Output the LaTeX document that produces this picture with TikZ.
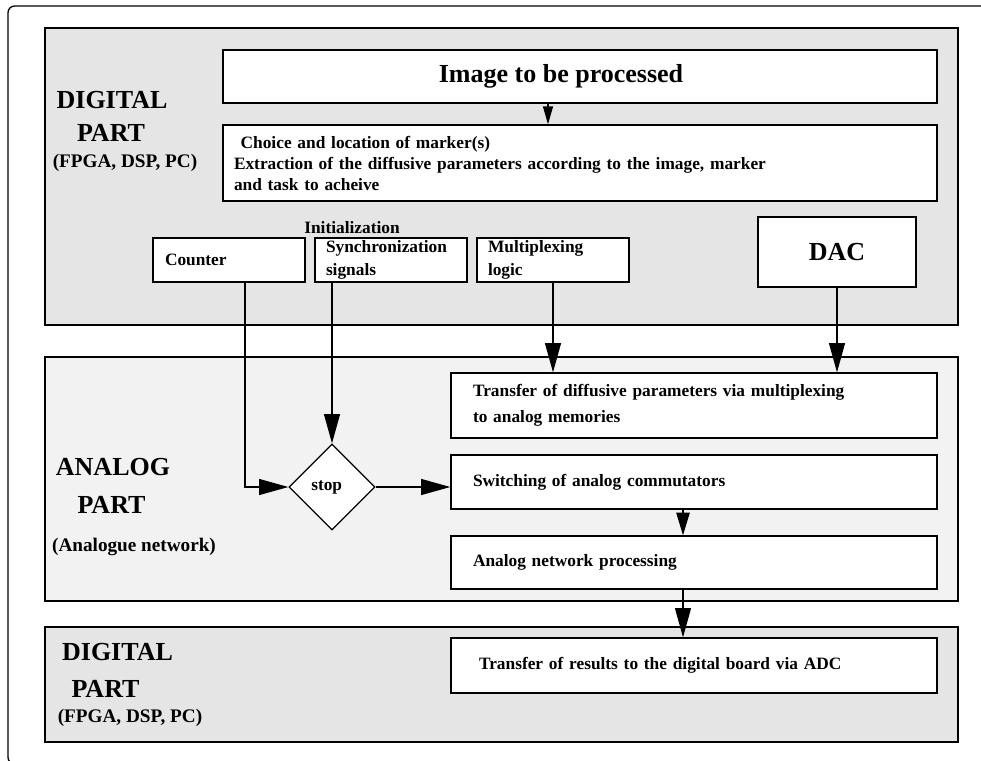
\documentclass[tikz,border=0pt]{standalone}
\usepackage{fontspec}
\setmainfont{Liberation Serif}
\usetikzlibrary{arrows.meta,shapes.geometric}

\begin{document}
\begin{tikzpicture}[x=0.75pt,y=0.75pt,yscale=-1,xscale=1,
    panel/.style={draw,line width=1pt},
    blk/.style={draw,fill=white,line width=1pt,inner ysep=0pt,font=\bfseries\fontsize{13}{15.75}\selectfont},
    lbl/.style={font=\bfseries\fontsize{19.5}{22}\selectfont,inner sep=0pt},
    sublbl/.style={font=\bfseries\fontsize{14.4}{17}\selectfont,inner sep=0pt},
    arr/.style={-{Triangle[length=22pt,width=12pt]},line width=1pt}]
    \useasboundingbox (0,0) rectangle (981,760);
    % Outer frame
    \draw[line width=1pt,rounded corners=5pt] (8,6) rectangle (1000,764);
    % Panels
    \draw[panel,fill=gray!20] (45,28) rectangle (958,325);
    \draw[panel,fill=gray!10] (45,357) rectangle (958,601);
    \draw[panel,fill=gray!20] (45,627) rectangle (958,742);

    % Digital part (top)
    \node[lbl] (dig) at (112,100) {DIGITAL};
    \node[lbl] (digpart) at (111,133) {PART};
    \node[sublbl] (digsub) at (125,163) {(FPGA, DSP, PC)};
    \node[blk,lbl,minimum width=535.5pt,minimum height=39.75pt] (image) at (580,76.5) {Image to be processed\hspace*{28.5pt}};
    \node[blk,minimum width=535.5pt,minimum height=57pt,text width=519pt,inner xsep=8.25pt,align=left] (choice) at (580,163)
        {\hspace*{5pt}Choice and location of marker(s)\\Extraction of the diffusive parameters according to the image, marker\\and task to acheive};
    \node[font=\bfseries\fontsize{13}{15}\selectfont,inner sep=0pt] (init) at (352,228) {Initialization};
    \node[blk,minimum height=33pt,text width=96pt,inner xsep=9pt,align=left] (counter) at (229,260) {Counter};
    \node[blk,minimum height=33pt,text width=97.5pt,inner xsep=8.25pt,align=left,font=\bfseries\fontsize{13}{17.25}\selectfont] (sync) at (391,260) {Synchronization\\signals};
    \node[blk,minimum height=33pt,text width=97.5pt,inner xsep=8.25pt,align=left,font=\bfseries\fontsize{13}{17.25}\selectfont] (mux) at (553,260) {Multiplexing\\logic};
    \node[blk,lbl,minimum width=118.5pt,minimum height=52.5pt] (dac) at (837,252) {DAC};

    % Analog part
    \node[lbl] (ana) at (113,467) {ANALOG};
    \node[lbl] (anapart) at (111.5,505) {PART};
    \node[sublbl] (anasub) at (134,547) {(Analogue network)};
    \node[blk,minimum height=48.75pt,text width=331.5pt,inner xsep=16.5pt,align=left,font=\bfseries\fontsize{13}{19.5}\selectfont] (transfer) at (694,405.5)
        {Transfer of diffusive parameters via multiplexing\\to analog memories};
    \node[blk,minimum height=40.5pt,text width=331.5pt,inner xsep=16.5pt,align=left] (switching) at (694,482) {Switching of analog commutators};
    \node[blk,minimum height=39.75pt,text width=331.5pt,inner xsep=16.5pt,align=left] (network) at (694,562.5) {Analog network processing};
    \node[draw,fill=white,diamond,line width=1pt,minimum width=64.5pt,minimum height=64.5pt,inner sep=0pt,font=\bfseries\fontsize{13}{15}\selectfont] (stop) at (332,487) {stop\hspace*{8pt}};

    % Digital part (bottom)
    \node[lbl] (dig2) at (117.5,652) {DIGITAL};
    \node[lbl] (digpart2) at (105.5,689) {PART};
    \node[sublbl] (digsub2) at (130,718) {(FPGA, DSP, PC)};
    \node[blk,minimum height=41.25pt,text width=322.5pt,inner xsep=21pt,align=left] (results) at (694,665.5) {Transfer of results to the digital board via ADC};

    % Arrows
    \draw[arr,-{Triangle[length=13.5pt,width=7.5pt]}] ([xshift=-24pt]image.south) -- ([xshift=-24pt]choice.north);
    \draw[arr] (stop |- sync.south) -- (stop.north);
    \draw[arr] ([xshift=12pt]counter.south) |- (stop.west);
    \draw[arr] (stop.east) -- (stop.east -| switching.west);
    \draw[arr] (mux.south) -- (mux.south |- transfer.north);
    \draw[arr] (dac.south) -- (dac.south |- transfer.north);
    \draw[arr,-{Triangle[length=17pt,width=10pt]}] ([xshift=-8.25pt]switching.south) -- ([xshift=-8.25pt]network.north);
    \draw[arr] ([xshift=-8.25pt]network.south) -- ([xshift=-8.25pt]results.north);
\end{tikzpicture}
\end{document}
